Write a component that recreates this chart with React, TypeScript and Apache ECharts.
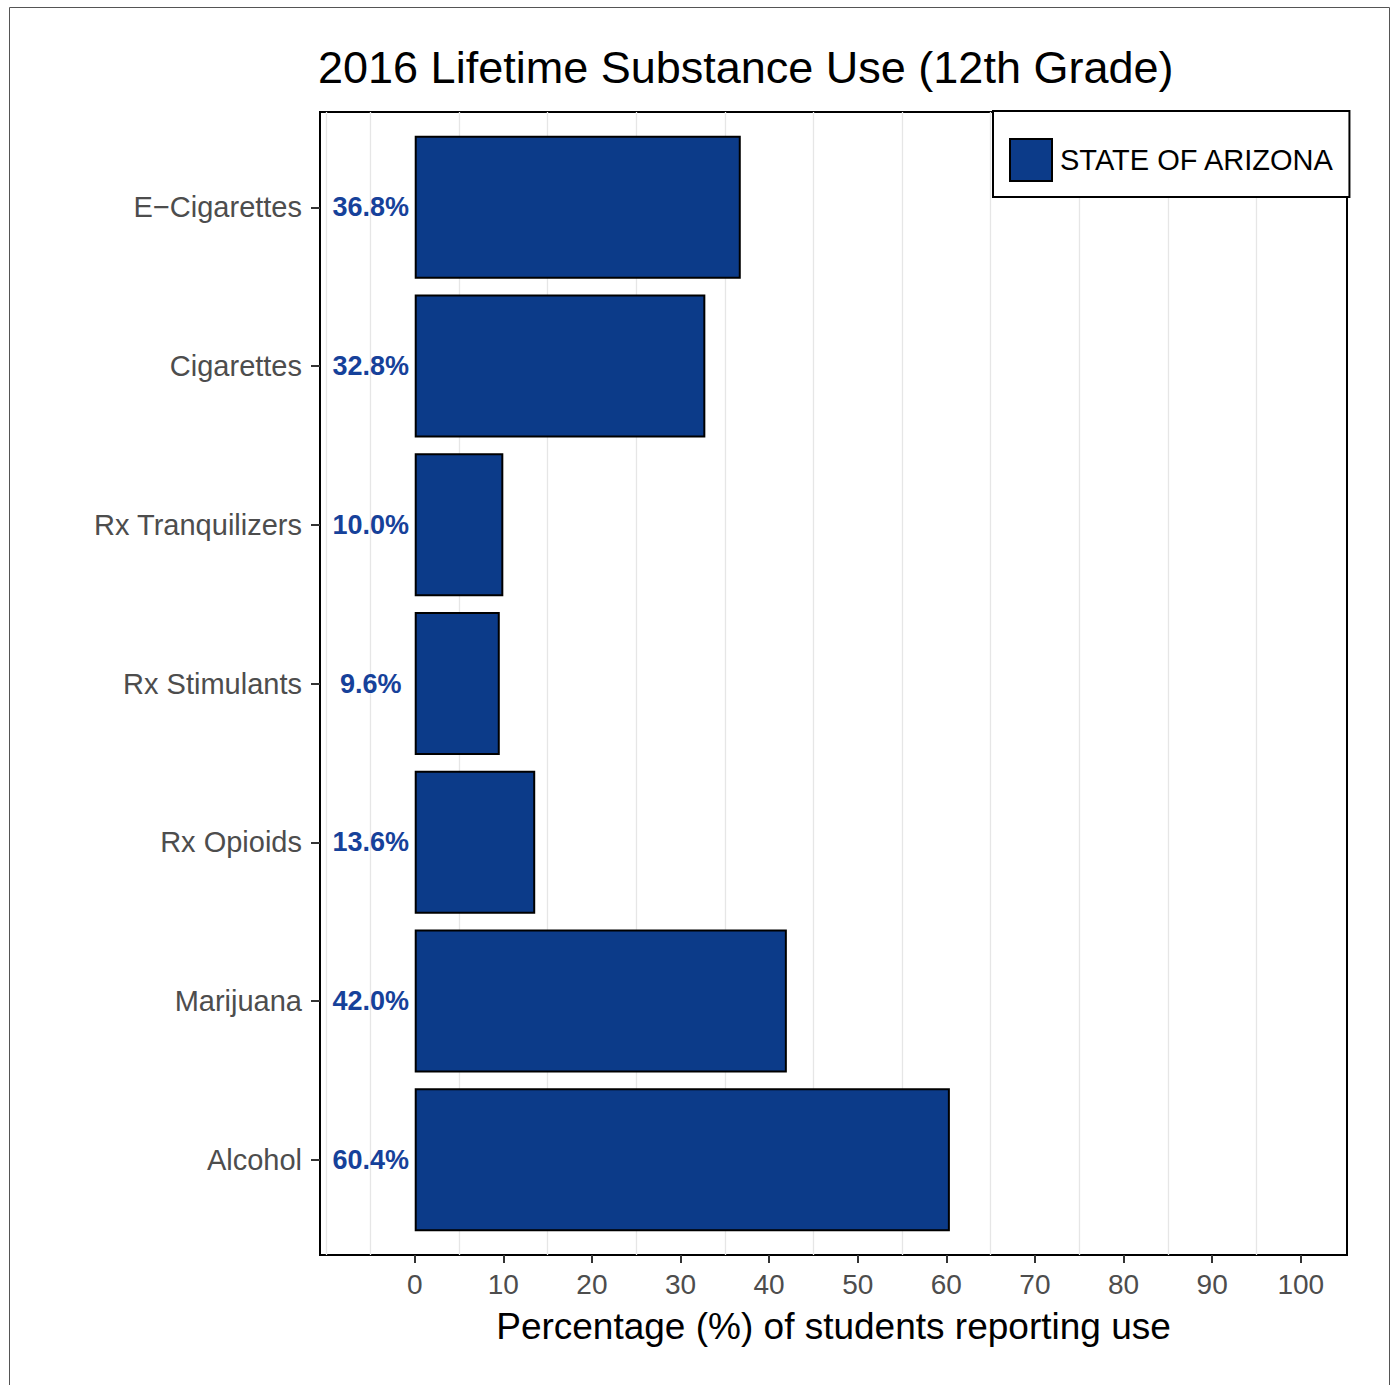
import React, { useEffect, useRef } from "react";
import * as echarts from "echarts";

// Lifetime use among 12th graders, percent
const categories: string[] = [
  "E\u2212Cigarettes",
  "Cigarettes",
  "Rx Tranquilizers",
  "Rx Stimulants",
  "Rx Opioids",
  "Marijuana",
  "Alcohol",
];
const values: number[] = [36.8, 32.8, 10.0, 9.6, 13.6, 42.0, 60.4];
const seriesName = "STATE OF ARIZONA";

// x-axis breaks and the light vertical guide lines
const xTicks: number[] = [0, 10, 20, 30, 40, 50, 60, 70, 80, 90, 100];
const guideLines: number[] = [-10, -5, 5, 15, 25, 35, 45, 55, 65, 75, 85, 95];

const X_MIN = -10.69;
const X_MAX = 105.22;
const FONT = "'Liberation Sans', Arial, Helvetica, sans-serif";
const BAR_FILL = "#0C3B89";
const LABEL_BLUE = "#16419A";

export default function App() {
  const ref = useRef<HTMLDivElement>(null);

  useEffect(() => {
    if (!ref.current) return;
    const chart = echarts.init(ref.current, null, { renderer: "svg" });

    // panel geometry
    const panelLeft = 320;
    const panelRight = 47;
    const panelTop = 112;
    const panelBottom = 130;
    const panelH = 1385 - panelTop - panelBottom;
    // discrete axis padding of 0.6 of a band on each side
    const unit = panelH / (categories.length - 1 + 1.2);
    const pad = unit * 0.1;

    chart.setOption({
      animation: false,
      backgroundColor: "#ffffff",
      textStyle: { fontFamily: FONT },
      title: {
        text: "2016 Lifetime Substance Use (12th Grade)",
        left: 318,
        top: 45,
        padding: 0,
        textStyle: { fontFamily: FONT, fontSize: 45, fontWeight: "normal", color: "#000" },
      },
      legend: {
        data: [seriesName],
        left: 993,
        top: 111,
        orient: "vertical",
        padding: [27, 15, 15, 16],
        backgroundColor: "#ffffff",
        borderColor: "#000",
        borderWidth: 2,
        borderRadius: 0,
        itemWidth: 42,
        itemHeight: 42,
        icon: "rect",
        itemStyle: { color: BAR_FILL, borderColor: "#000", borderWidth: 2 },
        textStyle: { fontFamily: FONT, fontSize: 29, color: "#000", padding: [0, 0, 0, 3] },
        selectedMode: false,
      },
      graphic: [
        {
          type: "rect",
          shape: { x: 9.5, y: 7.5, width: 1380, height: 1400 },
          style: { fill: "none", stroke: "#555", lineWidth: 1 },
          silent: true,
          z: 0,
        },
      ],
      grid: [
        {
          left: panelLeft,
          right: panelRight,
          top: panelTop,
          bottom: panelBottom,
          show: true,
          borderColor: "#000",
          borderWidth: 2,
          backgroundColor: "transparent",
        },
        {
          left: panelLeft,
          right: panelRight,
          top: panelTop + pad,
          bottom: panelBottom + pad,
        },
      ],
      xAxis: [
        {
          type: "value",
          gridIndex: 0,
          min: X_MIN,
          max: X_MAX,
          axisLine: { show: false, onZero: false },
          splitLine: { show: false },
          axisTick: {
            show: true,
            customValues: xTicks,
            length: 8,
            lineStyle: { color: "#333", width: 2 },
          },
          axisLabel: {
            customValues: xTicks,
            fontFamily: FONT,
            fontSize: 28,
            color: "#4D4D4D",
            margin: 15,
          },
          name: "Percentage (%) of students reporting use",
          nameLocation: "middle",
          nameGap: 53,
          nameTextStyle: { fontFamily: FONT, fontSize: 37, color: "#000" },
        },
        {
          type: "value",
          gridIndex: 1,
          min: X_MIN,
          max: X_MAX,
          show: false,
          axisLine: { onZero: false },
          splitLine: { show: false },
        },
      ],
      yAxis: [
        {
          type: "value",
          gridIndex: 0,
          min: 0,
          max: 1,
          show: false,
          axisLine: { onZero: false },
          splitLine: { show: false },
        },
        {
          type: "category",
          gridIndex: 1,
          data: categories,
          inverse: true,
          axisLine: { show: false, onZero: false },
          splitLine: { show: false },
          axisTick: {
            show: true,
            alignWithLabel: true,
            length: 9,
            lineStyle: { color: "#333", width: 2 },
          },
          axisLabel: {
            fontFamily: FONT,
            fontSize: 29,
            color: "#4D4D4D",
            margin: 18,
          },
        },
      ],
      series: [
        {
          type: "scatter",
          xAxisIndex: 0,
          yAxisIndex: 0,
          data: [],
          silent: true,
          z: 1,
          markLine: {
            silent: true,
            z: 1,
            symbol: "none",
            label: { show: false },
            lineStyle: { color: "#E6E6E6", width: 1.3, type: "solid" },
            data: guideLines.map((v) => ({ xAxis: v })),
          },
        },
        {
          name: seriesName,
          type: "bar",
          xAxisIndex: 1,
          yAxisIndex: 1,
          data: values,
          barCategoryGap: "10%",
          z: 3,
          itemStyle: { color: BAR_FILL, borderColor: "#000", borderWidth: 2 },
          label: {
            show: true,
            position: [-44, "50%"],
            align: "center",
            verticalAlign: "middle",
            fontFamily: FONT,
            fontSize: 27,
            fontWeight: "bold",
            color: LABEL_BLUE,
            formatter: (p: any) => `${Number(p.value).toFixed(1)}%`,
          },
        },
      ],
    });

    return () => chart.dispose();
  }, []);

  return (
    <div
      ref={ref}
      style={{ position: "fixed", left: 0, top: 0, width: 1394, height: 1385 }}
    />
  );
}
